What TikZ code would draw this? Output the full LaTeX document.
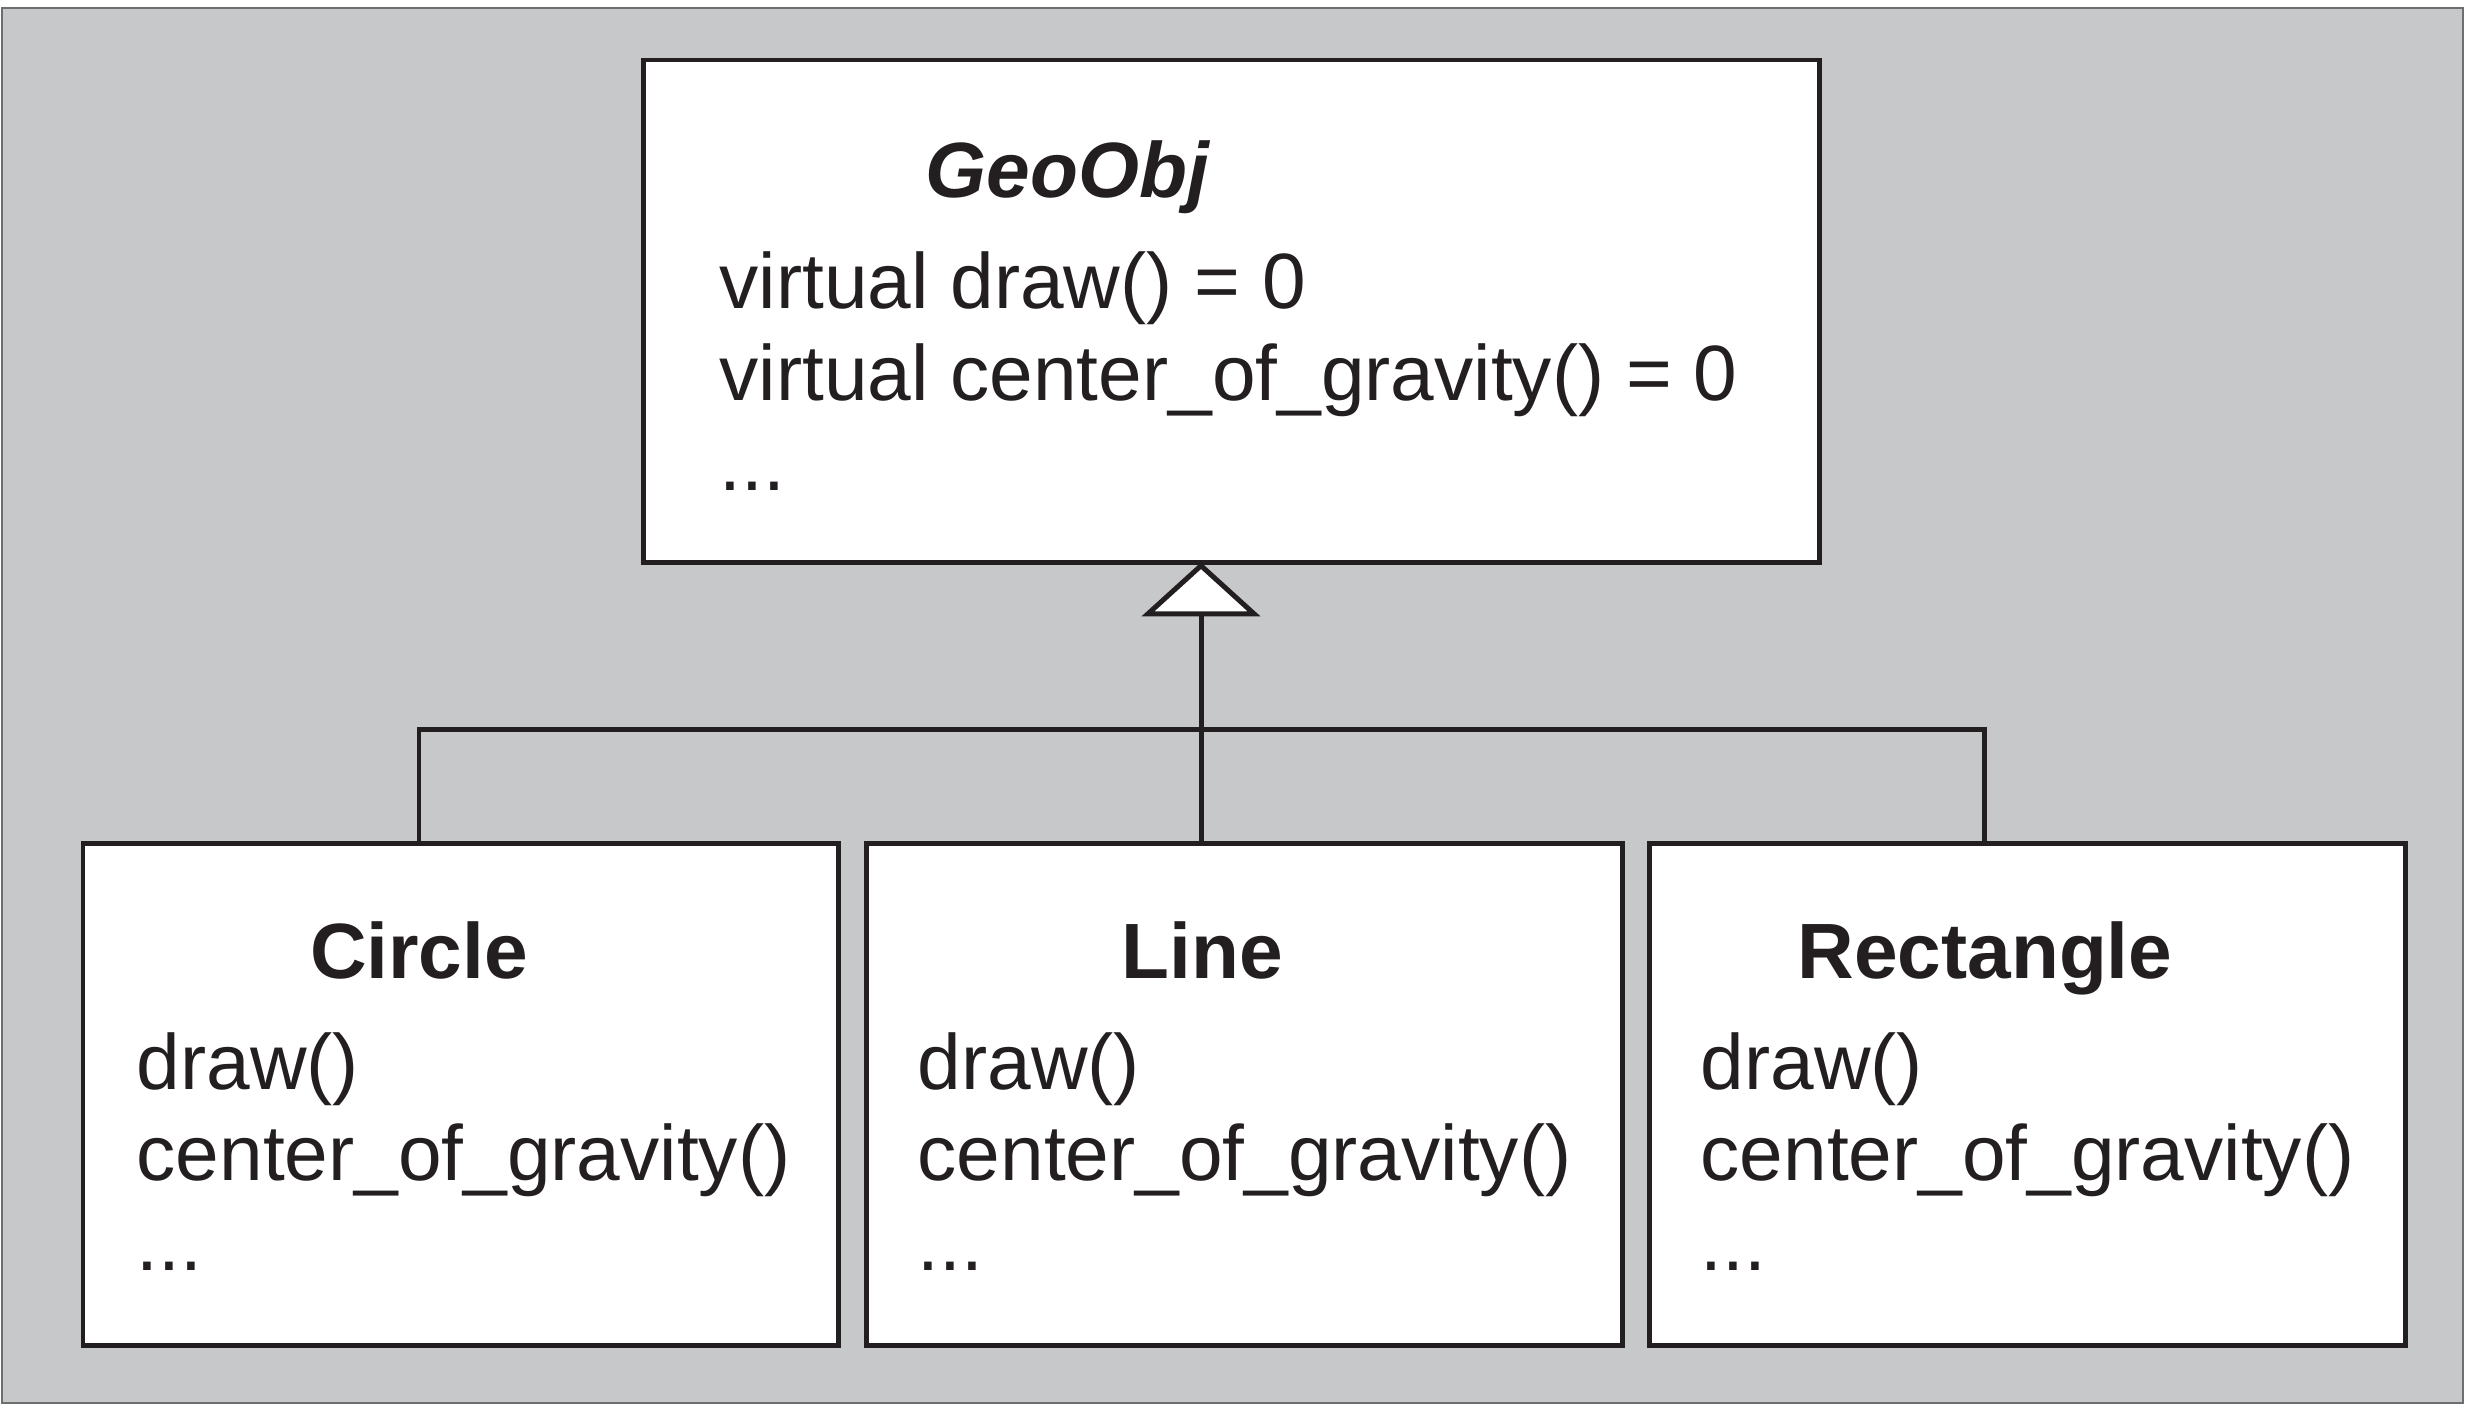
\documentclass[tikz,border=0pt]{standalone}
\usepackage{fontspec}
\setmainfont{Liberation Sans}
\usetikzlibrary{arrows.meta}
\definecolor{linec}{HTML}{231F20}
\definecolor{bgc}{HTML}{C7C8CA}
\definecolor{bgedge}{HTML}{6D6E70}
\begin{document}
\begin{tikzpicture}[x=0.01cm,y=-0.01cm,
  umlbox/.style={draw=linec, fill=white, line width=1.42pt, rectangle, inner sep=0pt, outer sep=0pt, anchor=north west},
  conn/.style={draw=linec, line width=1.42pt},
  txt/.style={anchor=base west, inner sep=0pt, font=\fontsize{22.3}{26}\selectfont, text=linec},
  ttl/.style={anchor=base, inner sep=0pt, font=\fontsize{22.3}{26}\selectfont\bfseries, text=linec}]
\useasboundingbox (0,0) rectangle (2465,1406);
\fill[bgc, draw=bgedge, line width=0.6pt] (2,8) rectangle (2463,1403);

% boxes
\node[umlbox, minimum width=11.76cm, minimum height=5.02cm] (geo) at (643,60) {};
\node[umlbox, minimum width=7.55cm, minimum height=5.02cm] (cir) at (83,843) {};
\node[umlbox, minimum width=7.56cm, minimum height=5.02cm] (lin) at (866,843) {};
\node[umlbox, minimum width=7.56cm, minimum height=5.02cm] (rec) at (1649,843) {};

% GeoObj texts
\node[txt, font=\fontsize{22.3}{26}\selectfont\bfseries\itshape] (geot) at (925,197) {GeoObj};
\node[txt] (geo1) at (719,308) {virtual draw() = 0};
\node[txt] (geo2) at (719,400) {virtual center\_of\_gravity() = 0};
\node[txt] (geo3) at (719,490) {...};

% Circle
\node[ttl] (cirt) at (419,978) {Circle};
\node[txt] (cir1) at (136,1089) {draw()};
\node[txt] (cir2) at (136,1180) {center\_of\_gravity()};
\node[txt] (cir3) at (136,1270) {...};

% Line
\node[ttl] (lint) at (1202,978) {Line};
\node[txt] (lin1) at (917,1089) {draw()};
\node[txt] (lin2) at (917,1180) {center\_of\_gravity()};
\node[txt] (lin3) at (917,1270) {...};

% Rectangle
\node[ttl] (rect) at (1985,978) {Rectangle};
\node[txt] (rec1) at (1700,1089) {draw()};
\node[txt] (rec2) at (1700,1180) {center\_of\_gravity()};
\node[txt] (rec3) at (1700,1270) {...};

% connectors
\coordinate (jl) at (419,729);
\coordinate (jm) at (1201,729);
\coordinate (jr) at (1984,729);
\draw[conn] (jl |- cir.north) -- (jl) -- (jr) -- (jr |- rec.north);
\draw[conn, -{Triangle[width=1.18cm, length=0.54cm, fill=white]}] (jm |- lin.north) -- (jm |- geo.south);
\end{tikzpicture}
\end{document}
